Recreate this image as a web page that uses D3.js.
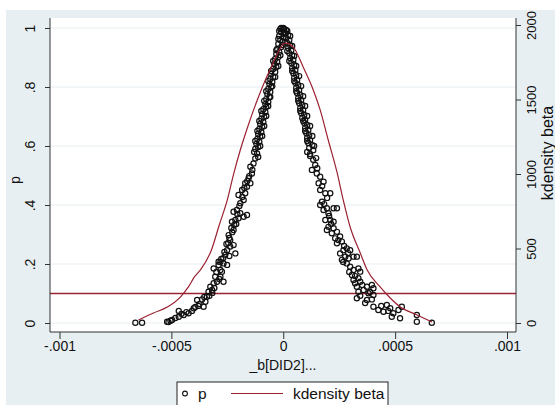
<!DOCTYPE html>
<head>
    <meta charset="utf-8">
    <style>
        html,
        body {
            margin: 0;
            padding: 0;
            background: #fff;
        }

        svg {
            display: block;
            font-family: "Liberation Sans", Arial, sans-serif;
        }
    </style>
    <script src="https://d3js.org/d3.v7.min.js"></script>
</head>

<body>
    <svg id="chart" width="555" height="405"></svg>

    <script>
        // ticks
        var xTicks = [-0.001, -0.0005, 0, 0.0005, 0.001];
        var xTickLabels = ["-.001", "-.0005", "0", ".0005", ".001"];
        var pTicks = [0, 0.2, 0.4, 0.6, 0.8, 1];
        var pTickLabels = ["0", ".2", ".4", ".6", ".8", "1"];
        var kTicks = [0, 500, 1000, 1500, 2000];
        var pLine = 0.1;

        // scatter: [beta, p], left branch of the peak
        var pointsLeft = [
            [-13e-6, 0.997], [0, 1.000], [13e-6, 0.993], [-9e-6, 0.986], [9e-6, 0.983],
            [-18e-6, 0.973], [0, 0.969], [-13e-6, 0.959], [-4e-6, 0.953], [-22e-6, 0.946],
            [-9e-6, 0.936], [-27e-6, 0.929], [-18e-6, 0.919], [-31e-6, 0.912], [-22e-6, 0.902],
            [-36e-6, 0.895], [-27e-6, 0.885], [-40e-6, 0.878], [-31e-6, 0.868], [-45e-6, 0.861],
            [-36e-6, 0.851], [-54e-6, 0.844], [-45e-6, 0.834], [-58e-6, 0.827], [-49e-6, 0.817],
            [-62e-6, 0.810], [-54e-6, 0.800], [-67e-6, 0.793], [-58e-6, 0.783], [-71e-6, 0.776],
            [-62e-6, 0.766], [-76e-6, 0.759], [-67e-6, 0.749], [-80e-6, 0.742], [-76e-6, 0.732],
            [-89e-6, 0.725], [-80e-6, 0.715], [-94e-6, 0.708], [-85e-6, 0.698], [-98e-6, 0.692],
            [-89e-6, 0.681], [-103e-6, 0.675], [-94e-6, 0.664], [-107e-6, 0.658], [-98e-6, 0.647],
            [-112e-6, 0.641], [-103e-6, 0.631], [-116e-6, 0.624], [-107e-6, 0.614], [-120e-6, 0.607],
            [-112e-6, 0.597], [-125e-6, 0.590],
            [-18e-6, 0.990], [4e-6, 0.980], [-22e-6, 0.963], [-4e-6, 0.942], [-31e-6, 0.925],
            [-13e-6, 0.908], [-45e-6, 0.888], [-22e-6, 0.871], [-54e-6, 0.854], [-36e-6, 0.834],
            [-67e-6, 0.820], [-49e-6, 0.803], [-76e-6, 0.786], [-58e-6, 0.766], [-85e-6, 0.753],
            [-67e-6, 0.736], [-98e-6, 0.719], [-76e-6, 0.702], [-107e-6, 0.685], [-85e-6, 0.668],
            [-116e-6, 0.651], [-94e-6, 0.634], [-125e-6, 0.617], [-103e-6, 0.600], [-130e-6, 0.580],
            [-112e-6, 0.563], [4e-6, 0.997], [-9e-6, 1.000],
            [-117e-6, 0.575], [-125e-6, 0.558], [-133e-6, 0.541],
            [-147e-6, 0.530], [-138e-6, 0.519], [-140e-6, 0.507], [-152e-6, 0.498], [-155e-6, 0.491],
            [-161e-6, 0.481], [-170e-6, 0.474], [-147e-6, 0.474], [-162e-6, 0.462], [-174e-6, 0.458],
            [-184e-6, 0.451], [-170e-6, 0.440], [-200e-6, 0.434], [-183e-6, 0.427], [-177e-6, 0.417],
            [-192e-6, 0.406], [-196e-6, 0.397], [-207e-6, 0.383], [-222e-6, 0.377], [-192e-6, 0.372],
            [-162e-6, 0.366], [-205e-6, 0.369], [-177e-6, 0.360], [-200e-6, 0.355], [-214e-6, 0.349],
            [-229e-6, 0.343], [-210e-6, 0.336], [-219e-6, 0.332], [-232e-6, 0.322], [-222e-6, 0.315],
            [-228e-6, 0.308], [-244e-6, 0.298], [-241e-6, 0.288], [-237e-6, 0.281], [-246e-6, 0.271],
            [-254e-6, 0.268], [-222e-6, 0.264], [-237e-6, 0.259], [-251e-6, 0.247], [-263e-6, 0.241],
            [-214e-6, 0.236], [-259e-6, 0.231], [-241e-6, 0.227], [-268e-6, 0.220], [-277e-6, 0.217],
            [-289e-6, 0.208], [-281e-6, 0.207], [-267e-6, 0.202], [-289e-6, 0.197], [-251e-6, 0.197],
            [-311e-6, 0.185], [-281e-6, 0.180], [-274e-6, 0.174], [-299e-6, 0.173], [-304e-6, 0.157],
            [-281e-6, 0.157], [-286e-6, 0.149], [-296e-6, 0.140], [-267e-6, 0.140], [-311e-6, 0.135],
            [-326e-6, 0.123], [-308e-6, 0.119], [-318e-6, 0.112], [-334e-6, 0.106], [-317e-6, 0.102],
            [-330e-6, 0.092], [-341e-6, 0.089], [-353e-6, 0.088], [-363e-6, 0.080], [-385e-6, 0.078],
            [-348e-6, 0.072], [-375e-6, 0.064], [-379e-6, 0.058], [-356e-6, 0.055], [-393e-6, 0.054],
            [-400e-6, 0.050], [-467e-6, 0.041], [-408e-6, 0.041], [-433e-6, 0.037], [-423e-6, 0.033],
            [-455e-6, 0.031], [-445e-6, 0.027], [-467e-6, 0.021], [-482e-6, 0.017], [-497e-6, 0.010],
            [-504e-6, 0.008], [-519e-6, 0.004], [-513e-6, 0.003], [-631e-6, 0.001], [-661e-6, 0.001]
        ];

        // scatter: [beta, p], right branch of the peak
        var pointsRight = [
            [18e-6, 0.990], [22e-6, 0.976], [13e-6, 0.966], [27e-6, 0.959], [18e-6, 0.949],
            [31e-6, 0.942], [22e-6, 0.932], [36e-6, 0.925], [27e-6, 0.915], [40e-6, 0.908],
            [31e-6, 0.898], [45e-6, 0.892], [36e-6, 0.881], [49e-6, 0.875], [40e-6, 0.864],
            [54e-6, 0.858], [45e-6, 0.847], [58e-6, 0.841], [49e-6, 0.831], [62e-6, 0.824],
            [54e-6, 0.814], [67e-6, 0.807], [58e-6, 0.797], [71e-6, 0.790], [62e-6, 0.780],
            [76e-6, 0.773], [67e-6, 0.763], [80e-6, 0.756], [71e-6, 0.746], [85e-6, 0.739],
            [76e-6, 0.729], [89e-6, 0.722], [80e-6, 0.712], [94e-6, 0.705], [85e-6, 0.695],
            [98e-6, 0.688], [94e-6, 0.678], [107e-6, 0.671], [98e-6, 0.661], [112e-6, 0.654],
            [103e-6, 0.644], [116e-6, 0.637], [107e-6, 0.627], [120e-6, 0.620], [112e-6, 0.610],
            [130e-6, 0.603], [116e-6, 0.593], [134e-6, 0.586],
            [4e-6, 0.986], [31e-6, 0.973], [9e-6, 0.953], [40e-6, 0.939], [18e-6, 0.922],
            [49e-6, 0.905], [27e-6, 0.888], [58e-6, 0.871], [40e-6, 0.854], [71e-6, 0.837],
            [49e-6, 0.820], [80e-6, 0.803], [58e-6, 0.786], [89e-6, 0.769], [67e-6, 0.753],
            [98e-6, 0.736], [76e-6, 0.719], [107e-6, 0.702], [89e-6, 0.685], [120e-6, 0.668],
            [98e-6, 0.651], [130e-6, 0.634], [107e-6, 0.617], [138e-6, 0.600], [120e-6, 0.573],
            [147e-6, 0.559],
            [107e-6, 0.580], [120e-6, 0.566],
            [134e-6, 0.553], [143e-6, 0.536], [152e-6, 0.525], [128e-6, 0.519], [150e-6, 0.507],
            [165e-6, 0.496], [158e-6, 0.474], [180e-6, 0.479], [174e-6, 0.464], [165e-6, 0.451],
            [188e-6, 0.440], [210e-6, 0.440], [196e-6, 0.424], [173e-6, 0.411], [165e-6, 0.400],
            [183e-6, 0.403], [180e-6, 0.383], [195e-6, 0.389], [202e-6, 0.372], [225e-6, 0.389],
            [240e-6, 0.389], [205e-6, 0.363], [188e-6, 0.349], [210e-6, 0.349], [225e-6, 0.343],
            [214e-6, 0.336], [202e-6, 0.326], [225e-6, 0.321], [195e-6, 0.315], [217e-6, 0.304],
            [240e-6, 0.309], [232e-6, 0.287], [254e-6, 0.293], [246e-6, 0.281], [262e-6, 0.276],
            [240e-6, 0.270], [272e-6, 0.261], [269e-6, 0.247], [284e-6, 0.253], [299e-6, 0.247],
            [254e-6, 0.236], [290e-6, 0.237], [277e-6, 0.225], [292e-6, 0.219], [314e-6, 0.225],
            [329e-6, 0.225], [262e-6, 0.214], [268e-6, 0.207], [284e-6, 0.202], [299e-6, 0.191],
            [314e-6, 0.180], [336e-6, 0.185], [344e-6, 0.174], [295e-6, 0.173], [307e-6, 0.163],
            [321e-6, 0.159], [314e-6, 0.146], [336e-6, 0.152], [321e-6, 0.135], [344e-6, 0.140],
            [353e-6, 0.129], [329e-6, 0.123], [374e-6, 0.123], [396e-6, 0.129], [403e-6, 0.118],
            [336e-6, 0.106], [359e-6, 0.112], [381e-6, 0.101], [388e-6, 0.105], [403e-6, 0.095],
            [344e-6, 0.092], [329e-6, 0.084], [374e-6, 0.078], [396e-6, 0.080], [366e-6, 0.068],
            [403e-6, 0.055], [438e-6, 0.058], [463e-6, 0.061], [425e-6, 0.044], [448e-6, 0.038],
            [478e-6, 0.050], [469e-6, 0.041], [530e-6, 0.055], [515e-6, 0.044], [492e-6, 0.033],
            [485e-6, 0.021], [522e-6, 0.016], [597e-6, 0.027], [597e-6, 0.004], [664e-6, 0.001]
        ];

        // kernel density of beta (right axis)
        var kdBeta = [-647e-6, -580e-6, -518e-6, -460e-6, -424e-6, -397e-6, -370e-6, -321e-6,
            -286e-6, -250e-6, -223e-6, -192e-6, -156e-6, -116e-6, -80e-6, -45e-6, -18e-6, 9e-6,
            45e-6, 89e-6, 129e-6, 165e-6, 201e-6, 241e-6, 268e-6, 299e-6, 344e-6, 375e-6,
            433e-6, 478e-6, 522e-6, 598e-6, 665e-6];
        var kdDensity = [20, 67, 107, 174, 242, 309, 356, 490,
            658, 826, 993, 1161, 1329, 1497, 1631, 1745, 1832, 1879,
            1852, 1718, 1584, 1430, 1228, 1007, 826, 644, 470, 356,
            242, 168, 109, 54, 7];

        var red = "#9b2232";
        var axisColor = "#333";
        var plot = { left: 50, right: 516, top: 18, bottom: 332 };

        var svg = d3.select("#chart");

        // graph region and plot region
        svg.append("rect").attr("x", 6).attr("y", 10).attr("width", 549).attr("height", 395)
            .attr("fill", "#e8eff2");
        svg.append("rect").attr("x", plot.left).attr("y", plot.top)
            .attr("width", plot.right - plot.left).attr("height", plot.bottom - plot.top)
            .attr("fill", "#fff");

        var x = d3.scaleLinear().domain([-0.001, 0.001]).range([59.5, 507]);
        var yP = d3.scaleLinear().domain([0, 1]).range([323, 28]);
        var yK = d3.scaleLinear().domain([0, 2000]).range([323, 25]);

        // gridlines
        svg.append("g").selectAll("line").data(pTicks).join("line")
            .attr("x1", plot.left).attr("x2", plot.right)
            .attr("y1", d => yP(d)).attr("y2", d => yP(d))
            .attr("stroke", "#e7eef1").attr("stroke-width", 1);

        // p = .1 line
        svg.append("line")
            .attr("x1", plot.left).attr("x2", plot.right)
            .attr("y1", yP(pLine)).attr("y2", yP(pLine))
            .attr("stroke", red).attr("stroke-width", 1.3);

        // scatter
        svg.append("g").selectAll("circle").data(pointsLeft.concat(pointsRight)).join("circle")
            .attr("cx", d => x(d[0])).attr("cy", d => yP(d[1]))
            .attr("r", 2.6)
            .attr("fill", "none").attr("stroke", "#111").attr("stroke-width", 1.2);

        // kdensity curve
        var line = d3.line()
            .x((d, i) => x(kdBeta[i]))
            .y(d => yK(d))
            .curve(d3.curveMonotoneX);
        svg.append("path").datum(kdDensity)
            .attr("d", line)
            .attr("fill", "none").attr("stroke", red).attr("stroke-width", 1.2);

        // axis lines
        var frame = svg.append("g").attr("stroke", axisColor).attr("stroke-width", 1);
        frame.append("line").attr("x1", plot.left).attr("x2", plot.left).attr("y1", plot.top).attr("y2", plot.bottom);
        frame.append("line").attr("x1", plot.right).attr("x2", plot.right).attr("y1", plot.top).attr("y2", plot.bottom);
        frame.append("line").attr("x1", plot.left).attr("x2", plot.right).attr("y1", plot.bottom).attr("y2", plot.bottom);

        function styleAxis(g) {
            g.select(".domain").remove();
            g.selectAll(".tick line").attr("stroke", axisColor);
            g.selectAll(".tick text").attr("fill", "#111").style("font-size", "14px")
                .style("font-family", '"Liberation Sans", Arial, sans-serif');
        }

        // left axis (p)
        svg.append("g").attr("transform", "translate(" + plot.left + ",0)")
            .call(d3.axisLeft(yP).tickValues(pTicks).tickSize(5)
                .tickFormat((d, i) => pTickLabels[i]))
            .call(styleAxis)
            .call(g => g.selectAll(".tick text")
                .attr("x", null).attr("dy", "0.35em").attr("y", -20)
                .attr("text-anchor", "middle").attr("transform", "rotate(-90)"));

        // right axis (kdensity)
        svg.append("g").attr("transform", "translate(" + plot.right + ",0)")
            .call(d3.axisRight(yK).tickValues(kTicks).tickSize(5).tickFormat(d3.format("d")))
            .call(styleAxis)
            .call(g => g.selectAll(".tick text")
                .style("font-size", "13px")
                .attr("x", null).attr("dy", "0.35em").attr("y", 15)
                .attr("text-anchor", "middle").attr("transform", "rotate(-90)"));

        // bottom axis
        svg.append("g").attr("transform", "translate(0," + plot.bottom + ")")
            .call(d3.axisBottom(x).tickValues(xTicks).tickSize(7)
                .tickFormat((d, i) => xTickLabels[i]))
            .call(styleAxis)
            .call(g => g.selectAll(".tick text").attr("y", 9));

        // axis titles
        svg.append("text").attr("transform", "translate(15,180) rotate(-90)")
            .attr("text-anchor", "middle").attr("dy", "0.35em")
            .style("font-size", "14px").attr("fill", "#111").text("p");
        svg.append("text").attr("transform", "translate(547,153) rotate(-90)")
            .attr("text-anchor", "middle").attr("dy", "0.35em")
            .style("font-size", "16px").attr("fill", "#111").text("kdensity beta");
        svg.append("text").attr("x", 283).attr("y", 370)
            .attr("text-anchor", "middle")
            .style("font-size", "14px").attr("fill", "#111").text("_b[DID2]...");

        // legend
        var legend = svg.append("g");
        legend.append("rect").attr("x", 177).attr("y", 382).attr("width", 211).attr("height", 32)
            .attr("fill", "#fff").attr("stroke", "#222").attr("stroke-width", 1);
        legend.append("circle").attr("cx", 185).attr("cy", 393.5).attr("r", 2.4)
            .attr("fill", "none").attr("stroke", "#111").attr("stroke-width", 1.1);
        legend.append("text").attr("x", 198).attr("y", 398.5)
            .style("font-size", "15.5px").attr("fill", "#111").text("p");
        legend.append("line").attr("x1", 231).attr("x2", 283).attr("y1", 393.5).attr("y2", 393.5)
            .attr("stroke", red).attr("stroke-width", 1.2);
        legend.append("text").attr("x", 293).attr("y", 398.5)
            .style("font-size", "15.5px").attr("fill", "#111").text("kdensity beta");
    </script>
</body>
